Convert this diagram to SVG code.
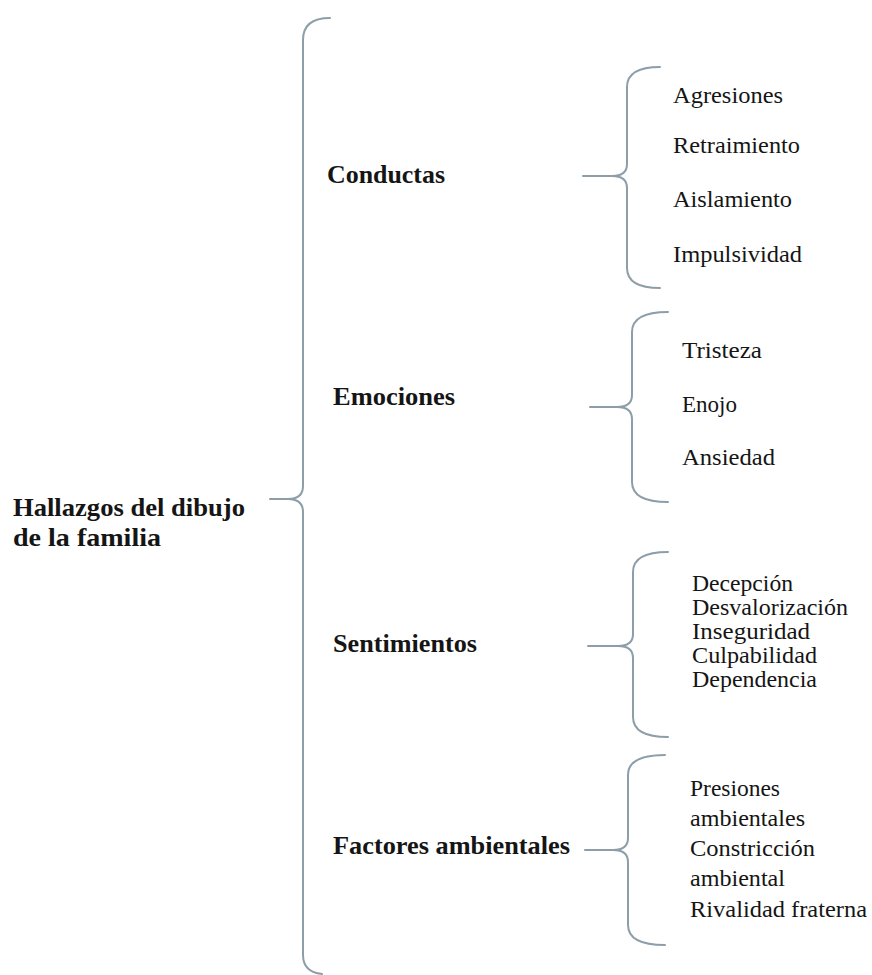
<svg xmlns="http://www.w3.org/2000/svg" width="872" height="975" viewBox="0 0 872 975">
<style>
.br{fill:none;stroke:#8d9ea9;stroke-width:2;stroke-linecap:round;stroke-linejoin:round}
.b{font-family:"Liberation Serif","DejaVu Serif",serif;font-weight:bold;font-size:25px;fill:#151515}
.r{font-family:"Liberation Serif","DejaVu Serif",serif;font-size:24px;fill:#151515}
</style>
<rect width="872" height="975" fill="#ffffff"/>
<g id="connectors">
<path class="br" d="M330,18 Q303,18 303,40 L303,486 Q303,499 288,499 L270,499 L288,499 Q303,499 303,512 L303,955 Q303,972 322,974"/>
<path class="br" d="M660,67 Q627,67 627,87 L627,164 Q627,176 612,176 L583,176 L612,176 Q627,176 627,188 L627,268 Q627,288 660,288"/>
<path class="br" d="M668,312 Q632,312 632,332 L632,395 Q632,407 617,407 L590,407 L617,407 Q632,407 632,419 L632,482 Q632,502 668,502"/>
<path class="br" d="M668,552 Q633,552 633,572 L633,634 Q633,646 618,646 L588,646 L618,646 Q633,646 633,658 L633,717 Q633,737 668,737"/>
<path class="br" d="M665,755 Q628,755 628,775 L628,838 Q628,850 613,850 L585,850 L613,850 Q628,850 628,862 L628,925 Q628,945 665,945"/>
</g>
<g id="root">
<text class="b" x="13" y="516" textLength="232" lengthAdjust="spacingAndGlyphs">Hallazgos del dibujo</text>
<text class="b" x="13" y="546" textLength="148" lengthAdjust="spacingAndGlyphs">de la familia</text>
</g>
<g id="conductas">
<text class="b" x="327" y="183" textLength="118" lengthAdjust="spacingAndGlyphs">Conductas</text>
</g>
<g id="conductas-items">
<text class="r" x="673" y="103" textLength="110" lengthAdjust="spacingAndGlyphs">Agresiones</text>
<text class="r" x="673" y="153" textLength="127" lengthAdjust="spacingAndGlyphs">Retraimiento</text>
<text class="r" x="673" y="207" textLength="119" lengthAdjust="spacingAndGlyphs">Aislamiento</text>
<text class="r" x="673" y="262" textLength="129" lengthAdjust="spacingAndGlyphs">Impulsividad</text>
</g>
<g id="emociones">
<text class="b" x="333" y="405" textLength="122" lengthAdjust="spacingAndGlyphs">Emociones</text>
</g>
<g id="emociones-items">
<text class="r" x="682" y="358" textLength="80" lengthAdjust="spacingAndGlyphs">Tristeza</text>
<text class="r" x="682" y="412" textLength="55" lengthAdjust="spacingAndGlyphs">Enojo</text>
<text class="r" x="682" y="465" textLength="93" lengthAdjust="spacingAndGlyphs">Ansiedad</text>
</g>
<g id="sentimientos">
<text class="b" x="333" y="652" textLength="144" lengthAdjust="spacingAndGlyphs">Sentimientos</text>
</g>
<g id="sentimientos-items">
<text class="r" x="692" y="591" textLength="101" lengthAdjust="spacingAndGlyphs">Decepción</text>
<text class="r" x="692" y="615" textLength="156" lengthAdjust="spacingAndGlyphs">Desvalorización</text>
<text class="r" x="692" y="639" textLength="118" lengthAdjust="spacingAndGlyphs">Inseguridad</text>
<text class="r" x="692" y="663" textLength="125" lengthAdjust="spacingAndGlyphs">Culpabilidad</text>
<text class="r" x="692" y="687" textLength="125" lengthAdjust="spacingAndGlyphs">Dependencia</text>
</g>
<g id="factores">
<text class="b" x="333" y="854" textLength="237" lengthAdjust="spacingAndGlyphs">Factores ambientales</text>
</g>
<g id="factores-items">
<text class="r" x="690" y="796" textLength="90" lengthAdjust="spacingAndGlyphs">Presiones</text>
<text class="r" x="690" y="826" textLength="115" lengthAdjust="spacingAndGlyphs">ambientales</text>
<text class="r" x="690" y="856" textLength="125" lengthAdjust="spacingAndGlyphs">Constricción</text>
<text class="r" x="690" y="886" textLength="95" lengthAdjust="spacingAndGlyphs">ambiental</text>
<text class="r" x="690" y="917" textLength="177" lengthAdjust="spacingAndGlyphs">Rivalidad fraterna</text>
</g>
</svg>
